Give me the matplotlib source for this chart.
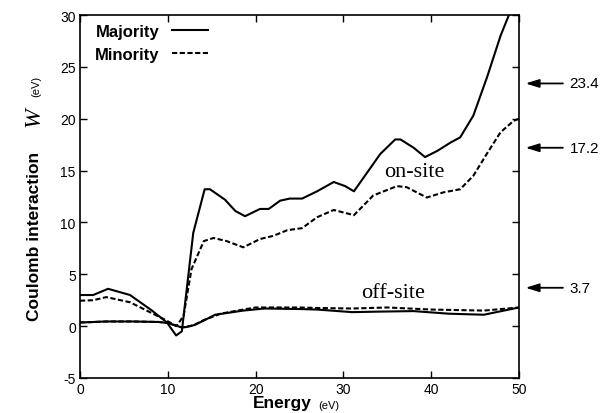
import matplotlib
matplotlib.use("Agg")
import matplotlib.pyplot as plt

plt.rcParams["axes.unicode_minus"] = False

# on-site W, majority spin (solid)
maj_on_x = [0, 1.5, 3.2, 5.7, 8.2, 9.9, 10.95, 11.6, 12.9, 14.2, 14.8, 16.5, 17.7, 18.8,
            20.5, 21.5, 22.8, 23.9, 25.3, 27.0, 28.9, 30.2, 31.2, 32.7, 34.2, 35.9, 36.5,
            38.0, 39.3, 40.7, 42.2, 43.3, 44.8, 46.4, 47.9, 48.9, 50]
maj_on_y = [3.0, 3.0, 3.6, 3.0, 1.5, 0.35, -0.9, -0.5, 9.0, 13.2, 13.2, 12.2, 11.1, 10.6,
            11.3, 11.3, 12.1, 12.3, 12.3, 13.0, 13.9, 13.5, 13.0, 14.8, 16.6, 18.0, 18.0,
            17.2, 16.3, 16.9, 17.7, 18.2, 20.3, 24.1, 28.0, 30.1, 31.5]

# on-site W, minority spin (dashed)
min_on_x = [0, 1.5, 3.0, 5.7, 7.6, 9.5, 11.0, 11.8, 12.7, 14.1, 15.2, 16.7, 18.6, 20.5,
            22.0, 23.6, 25.3, 27.0, 28.9, 31.2, 33.4, 36.1, 37.2, 39.5, 41.4, 43.3, 44.8,
            46.4, 47.9, 49.4, 50]
min_on_y = [2.45, 2.5, 2.8, 2.3, 1.5, 0.7, 0.0, 1.0, 5.5, 8.2, 8.5, 8.2, 7.6, 8.4,
            8.7, 9.25, 9.45, 10.5, 11.2, 10.7, 12.6, 13.5, 13.4, 12.4, 12.9, 13.2, 14.5,
            16.7, 18.7, 19.8, 20.0]

# off-site W
maj_off_x = [0, 3, 6, 9, 10, 11.5, 12, 13, 14, 15.4, 18.6, 21, 25, 27, 31, 34, 38, 42, 46, 50]
maj_off_y = [0.35, 0.45, 0.45, 0.4, 0.3, -0.1, -0.1, 0.1, 0.5, 1.1, 1.5, 1.7, 1.65, 1.6,
             1.35, 1.4, 1.45, 1.2, 1.1, 1.8]
min_off_x = [0, 3, 6, 9, 10, 11.5, 12, 13, 14, 16, 18.6, 20, 25, 27, 31, 35, 40, 46, 50]
min_off_y = [0.35, 0.45, 0.45, 0.4, 0.3, -0.1, -0.1, 0.1, 0.55, 1.2, 1.6, 1.8, 1.8, 1.75,
             1.7, 1.8, 1.6, 1.5, 1.8]

arrow_vals = [23.4, 17.2, 3.7]

fig = plt.figure(figsize=(6.13, 4.14), dpi=100)
ax = fig.add_axes([80/613, 35/414, 439/613, 363/414])

dash = (0, (2.5, 1.2))
ax.plot(maj_on_x, maj_on_y, color="black", lw=1.5, label="Majority")
ax.plot(min_on_x, min_on_y, color="black", lw=1.5, linestyle=dash, label="Minority")
ax.plot(maj_off_x, maj_off_y, color="black", lw=1.5)
ax.plot(min_off_x, min_off_y, color="black", lw=1.5, linestyle=dash)

ax.set_xlim(0, 50)
ax.set_ylim(-5, 30)
ax.set_xticks(range(0, 51, 10))
ax.set_yticks(range(-5, 31, 5))
ax.tick_params(direction="in", top=True, right=True, length=5, width=1,
               labelsize=10, pad=3)
for lab in ax.get_xticklabels() + ax.get_yticklabels():
    lab.set_family("Liberation Sans")
for s in ax.spines.values():
    s.set_linewidth(1.2)

leg = ax.legend(loc="upper left", bbox_to_anchor=(0.035, 0.975), frameon=False,
                markerfirst=False, handlelength=2.2, handletextpad=0.7,
                labelspacing=0.45, borderaxespad=0, borderpad=0,
                prop={"family": "Liberation Sans", "weight": "bold", "size": 12})

ax.text(38.1, 14.9, "on-site", family="Liberation Serif", fontsize=16,
        ha="center", va="center")
ax.text(35.7, 3.2, "off-site", family="Liberation Serif", fontsize=16,
        ha="center", va="center")

for v in arrow_vals:
    ax.annotate("", xy=(1.015, v), xytext=(1.10, v),
                xycoords=("axes fraction", "data"),
                arrowprops=dict(arrowstyle="-|>,head_length=0.8,head_width=0.25",
                                color="black", lw=1.3, shrinkA=0, shrinkB=0),
                annotation_clip=False)
    ax.text(1.115, v, f"{v}", transform=ax.get_yaxis_transform(),
            family="Liberation Sans", fontsize=11, ha="left", va="center")

# y label pieces
fig.text(35/613, 1 - 236/414, "Coulomb interaction", rotation=90, ha="center",
         va="center", family="Liberation Sans", weight="bold", fontsize=12.5)
fig.text(34/613, 1 - 117/414, "W", rotation=90, ha="center", va="center",
         family="Liberation Serif", style="italic", fontsize=17)
fig.text(36/613, 1 - 86/414, "(eV)", rotation=90, ha="center", va="center",
         family="Liberation Sans", fontsize=8)

# x label pieces
fig.text(282/613, 1 - 404/414, "Energy", ha="center", va="center",
         family="Liberation Sans", weight="bold", fontsize=12.5)
fig.text(329/613, 1 - 406/414, "(eV)", ha="center", va="center",
         family="Liberation Sans", fontsize=8)

fig.savefig("out.png", dpi=100)
